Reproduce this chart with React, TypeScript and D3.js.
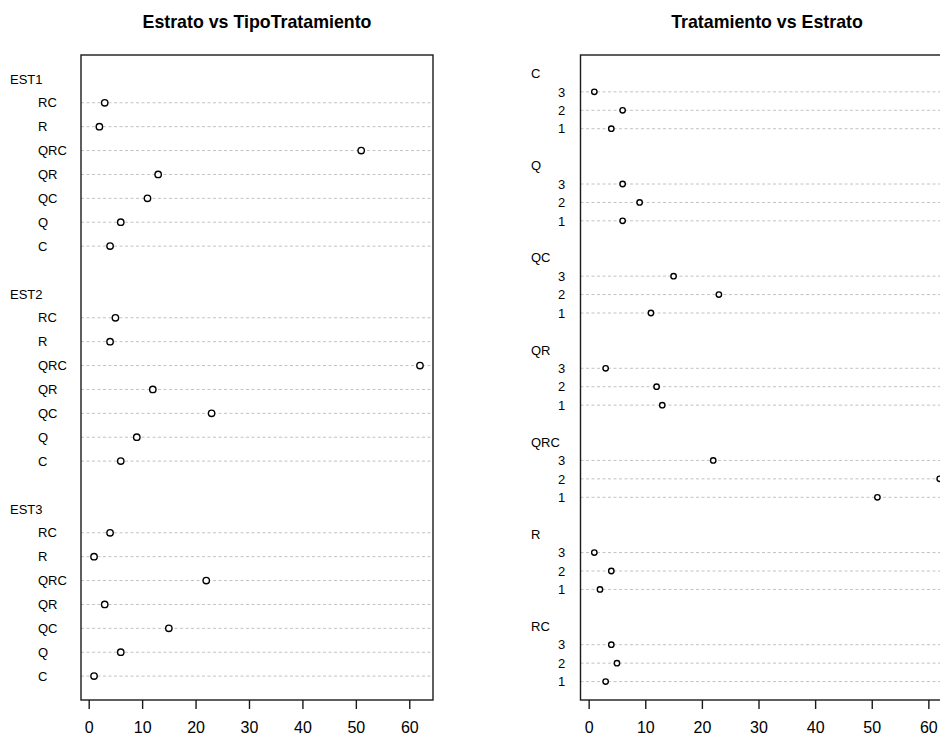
import React, { useEffect, useRef } from "react";
import * as d3 from "d3";

// dotchart data: counts per treatment type (C..RC) for each stratum
const treatments = ["C", "Q", "QC", "QR", "QRC", "R", "RC"];
const strata = ["EST1", "EST2", "EST3"];
const strataShort = ["1", "2", "3"];
const est1 = [4, 6, 11, 13, 51, 2, 3];
const est2 = [6, 9, 23, 12, 62, 4, 5];
const est3 = [1, 6, 15, 3, 22, 1, 4];
const xTicks = [0, 10, 20, 30, 40, 50, 60];

const FONT = "'Liberation Sans', Arial, Helvetica, sans-serif";

interface Group {
  label: string;
  items: { label: string; value: number }[]; // listed top to bottom
}

interface PanelOpts {
  title: string;
  groups: Group[];
  left: number;
  right: number;
  top: number;
  bottom: number;
  groupX: number;
  itemX: number;
  dotR: number;
}

const drawPanel = (
  svg: d3.Selection<SVGSVGElement, unknown, null, undefined>,
  o: PanelOpts
) => {
  const g = svg.append("g");
  const values = o.groups.flatMap((gr) => gr.items.map((d) => d.value));
  const [lo, hi] = d3.extent(values) as [number, number];
  const pad = (hi - lo) * 0.04; // R extends the range by 4%

  const nItems = values.length;
  const yMax = nItems + 2 * (o.groups.length - 1) + 2;

  const x = d3.scaleLinear().domain([lo - pad, hi + pad]).range([o.left, o.right]);
  const y = d3.scaleLinear().domain([0, yMax]).range([o.bottom, o.top]);

  // row positions like dotchart(): group label, items, blank row
  const rows: { label: string; value?: number; row: number; isGroup: boolean }[] = [];
  let r = yMax - 1;
  o.groups.forEach((gr) => {
    rows.push({ label: gr.label, row: r, isGroup: true });
    r--;
    gr.items.forEach((it) => {
      rows.push({ label: it.label, value: it.value, row: r, isGroup: false });
      r--;
    });
    r--;
  });
  const items = rows.filter((d) => !d.isGroup);

  // dotted guide lines
  g.selectAll("line.guide")
    .data(items)
    .join("line")
    .attr("class", "guide")
    .attr("x1", o.left)
    .attr("x2", o.right)
    .attr("y1", (d) => y(d.row))
    .attr("y2", (d) => y(d.row))
    .attr("stroke", "#c2c2c2")
    .attr("stroke-width", 1)
    .attr("stroke-dasharray", "3 2.5");

  // points
  g.selectAll("circle")
    .data(items)
    .join("circle")
    .attr("cx", (d) => x(d.value as number))
    .attr("cy", (d) => y(d.row))
    .attr("r", o.dotR)
    .attr("fill", "white")
    .attr("stroke", "black")
    .attr("stroke-width", 1.4);

  // labels
  g.selectAll("text.lab")
    .data(rows)
    .join("text")
    .attr("class", "lab")
    .attr("x", (d) => (d.isGroup ? o.groupX : o.itemX))
    .attr("y", (d) => y(d.row))
    .attr("dy", "0.36em")
    .attr("font-family", FONT)
    .attr("font-size", 13)
    .attr("fill", "black")
    .text((d) => d.label);

  // box
  g.append("rect")
    .attr("x", o.left)
    .attr("y", o.top)
    .attr("width", o.right - o.left)
    .attr("height", o.bottom - o.top)
    .attr("fill", "none")
    .attr("stroke", "#1a1a1a")
    .attr("stroke-width", 1.4);

  // x axis
  const axis = g
    .append("g")
    .attr("transform", `translate(0,${o.bottom})`)
    .call(d3.axisBottom(x).tickValues(xTicks).tickSize(9).tickPadding(12.7).tickFormat(d3.format("d")));
  axis.select(".domain").remove();
  axis.selectAll("line").attr("stroke", "#1a1a1a").attr("stroke-width", 1.4);
  axis.selectAll("text").attr("font-family", FONT).attr("font-size", 16).attr("fill", "black");

  // title
  g.append("text")
    .attr("x", (o.left + o.right) / 2)
    .attr("y", 28)
    .attr("text-anchor", "middle")
    .attr("font-family", FONT)
    .attr("font-size", 17.8)
    .attr("font-weight", "bold")
    .attr("fill", "black")
    .text(o.title);
};

const App = () => {
  const svgRef = useRef<SVGSVGElement | null>(null);

  useEffect(() => {
    const svg = d3.select(svgRef.current as SVGSVGElement);
    svg.selectAll("*").remove();
    svg.append("rect").attr("width", 940).attr("height", 735).attr("fill", "white");

    const byStratum = [est1, est2, est3];

    // left: strata as groups, treatments listed in reverse
    const leftGroups: Group[] = strata.map((s, si) => ({
      label: s,
      items: treatments
        .map((t, ti) => ({ label: t, value: byStratum[si][ti] }))
        .reverse(),
    }));

    // right: treatments as groups, strata 3..1
    const rightGroups: Group[] = treatments.map((t, ti) => ({
      label: t,
      items: strataShort
        .map((s, si) => ({ label: s, value: byStratum[si][ti] }))
        .reverse(),
    }));

    drawPanel(svg, {
      title: "Estrato vs TipoTratamiento",
      groups: leftGroups,
      left: 81,
      right: 433,
      top: 55,
      bottom: 700,
      groupX: 10,
      itemX: 38,
      dotR: 3.2,
    });

    drawPanel(svg, {
      title: "Tratamiento vs Estrato",
      groups: rightGroups,
      left: 580.5,
      right: 953.5,
      top: 55,
      bottom: 700,
      groupX: 531,
      itemX: 558,
      dotR: 2.7,
    });
  }, []);

  return (
    <div style={{ position: "absolute", left: 0, top: 0, width: 940, height: 735 }}>
      <svg ref={svgRef} width={940} height={735} style={{ display: "block" }}></svg>
    </div>
  );
};

export default App;
